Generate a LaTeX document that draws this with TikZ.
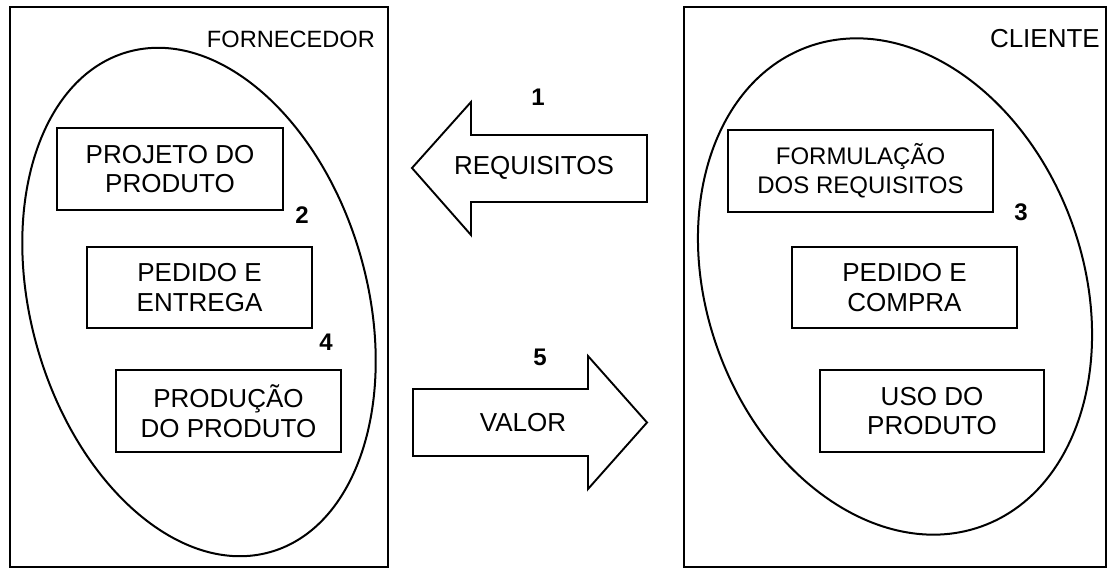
\documentclass[tikz,border=0pt]{standalone}
\usepackage{fontspec}
\setmainfont{Liberation Sans}
\begin{document}
\begin{tikzpicture}[x=1pt,y=-1pt,
  frame/.style={draw=black,line width=2.1pt},
  oval/.style={draw=black,line width=2pt},
  proc/.style={draw=black,line width=1.9pt,align=center,inner sep=0pt,
    font=\fontsize{26}{29.5}\selectfont},
  num/.style={font=\fontsize{24}{28}\selectfont\bfseries,inner sep=0pt},
  lbl/.style={font=\fontsize{26}{30}\selectfont,inner sep=0pt},
  bigarrow/.style={draw=black,line width=1.9pt,line join=miter}]
\useasboundingbox (0,0) rectangle (1107,568);
% frames
\draw[frame] (10,7) rectangle (388,567);
\draw[frame] (684,7) rectangle (1106,567);
\node[lbl,anchor=base east,font=\fontsize{23.6}{28}\selectfont] (forn) at (375,47) {FORNECEDOR};
\node[lbl,anchor=base east] (cli) at (1100,47) {CLIENTE};
% ellipses
\draw[oval,rotate around={16:(199,302)}] (199,302) ellipse [x radius=168, y radius=260];
\draw[oval,rotate around={20:(895,286.5)}] (895,286.5) ellipse [x radius=188, y radius=255];
% left boxes
\node[proc,minimum width=226pt,minimum height=82pt] (proj) at (170,169) {PROJETO DO\\PRODUTO};
\node[proc,minimum width=225pt,minimum height=81pt] (ped) at (199.5,287.5) {PEDIDO E\\ENTREGA};
\node[proc,minimum width=225pt,minimum height=82pt] (prod) at (228.5,411) {PRODUÇÃO\\DO PRODUTO};
% right boxes
\node[proc,minimum width=265pt,minimum height=82pt,font=\fontsize{24}{29}\selectfont] (form) at (860.5,171) {FORMULAÇÃO\\DOS REQUISITOS};
\node[proc,minimum width=225pt,minimum height=81pt] (comp) at (904.5,287.5) {PEDIDO E\\COMPRA};
\node[proc,minimum width=224pt,minimum height=82pt] (uso) at (932,411) {USO DO\\PRODUTO};
% numbers
\node[num] (n1) at (538,97) {1};
\node[num] (n2) at (302,215) {2};
\node[num] (n3) at (1021,212) {3};
\node[num] (n4) at (326,342) {4};
\node[num] (n5) at (540,357) {5};
% arrows
\draw[bigarrow] (412,168) -- (471,102) -- (471,135) -- (647,135) -- (647,202) -- (471,202) -- (471,235) -- cycle;
\node[lbl] (req) at (534,168) {REQUISITOS};
\draw[bigarrow] (413,389) -- (588,389) -- (588,356) -- (647,422.5) -- (588,489) -- (588,456) -- (413,456) -- cycle;
\node[lbl] (val) at (523,422.5) {VALOR};
\end{tikzpicture}
\end{document}
